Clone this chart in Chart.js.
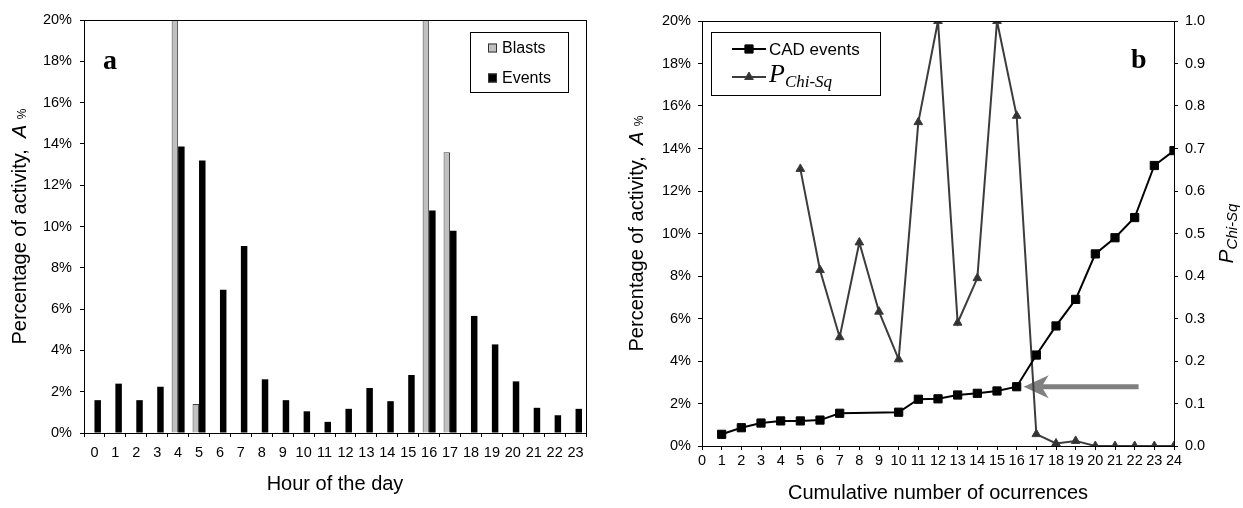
<!DOCTYPE html>
<html lang="en">
<head>
    <meta charset="UTF-8">
    <title>Activity by hour of the day and cumulative occurrences</title>
    <script src="https://cdn.jsdelivr.net/npm/chart.js"></script>
    <style>
        html, body { margin: 0; padding: 0; background: #fff; }
        #wrap { position: relative; width: 1243px; height: 508px; }
        #wrap canvas { position: absolute; top: 0; }
        #hourChart { left: 0; }
        #cumChart { left: 620px; }
    </style>
</head>
<body>
<div id="wrap">
    <canvas id="hourChart" width="620" height="508"></canvas>
    <canvas id="cumChart" width="623" height="508"></canvas>
</div>

<script>
    const SANS = '"Liberation Sans", Arial, sans-serif';
    const SERIF = '"Liberation Serif", "Times New Roman", serif';
    const TICK_FONT = { family: SANS, size: 14.5 };

    // Panel a: percentage of activity per hour of the day
    const hours = ['0','1','2','3','4','5','6','7','8','9','10','11','12','13','14','15','16','17','18','19','20','21','22','23'];
    const blasts = [0, 0, 0, 0, 24.5, 1.41, 0, 0, 0, 0, 0, 0, 0, 0, 0, 0, 23.8, 13.6, 0, 0, 0, 0, 0, 0];
    const events = [1.59, 2.39, 1.59, 2.24, 13.88, 13.2, 6.94, 9.05, 2.6, 1.59, 1.05, 0.54,
                    1.17, 2.18, 1.54, 2.81, 10.78, 9.8, 5.67, 4.29, 2.5, 1.22, 0.86, 1.17];

    // Panel b: cumulative number of occurrences
    const occurrences = [1, 2, 3, 4, 5, 6, 7, 10, 11, 12, 13, 14, 15, 16, 17, 18, 19, 20, 21, 22, 23, 24];
    const cadEvents = [0.55, 0.86, 1.08, 1.18, 1.18, 1.22, 1.54, 1.59, 2.2, 2.22, 2.4, 2.48,
                       2.59, 2.79, 4.28, 5.65, 6.9, 9.04, 9.8, 10.75, 13.2, 13.9];
    const chiSqOccurrences = [5, 6, 7, 8, 9, 10, 11, 12, 13, 14, 15, 16, 17, 18, 19, 20, 21, 22, 23, 24];
    const pChiSq = [0.652, 0.414, 0.256, 0.479, 0.316, 0.204, 0.762, 1.0, 0.29, 0.395,
                    1.0, 0.777, 0.028, 0.006, 0.012, 0, 0, 0, 0, 0];
    const arrowTarget = 16;   // occurrence the arrow points at
    const arrowTail = 22.2;

    Chart.defaults.font.family = SANS;
    Chart.defaults.color = '#000';

    // draws a run of text pieces (font can change per piece), optionally rotated
    function drawRich(ctx, parts, x, y, rotate, align) {
        ctx.save();
        ctx.translate(x, y);
        if (rotate) ctx.rotate(-Math.PI / 2);
        ctx.textBaseline = 'alphabetic';
        ctx.textAlign = 'left';
        let total = 0;
        parts.forEach(p => { ctx.font = p.font; p.w = ctx.measureText(p.text).width; total += p.w; });
        let cx = align === 'left' ? 0 : -total / 2;
        parts.forEach(p => {
            ctx.font = p.font;
            ctx.fillStyle = '#000';
            ctx.fillText(p.text, cx, p.dy || 0);
            cx += p.w;
        });
        ctx.restore();
    }

    const pctTitle = [
        { text: 'Percentage of activity,  ', font: '20px ' + SANS },
        { text: 'A', font: 'italic 20px ' + SANS },
        { text: ' ', font: '20px ' + SANS },
        { text: '%', font: '12px ' + SANS }
    ];

    function frameBox(ctx, a) {
        ctx.save();
        ctx.strokeStyle = '#000';
        ctx.lineWidth = 1;
        ctx.beginPath();
        ctx.moveTo(a.left, a.top + 0.5);
        ctx.lineTo(a.right, a.top + 0.5);
        ctx.moveTo(a.right + 0.5, a.top);
        ctx.lineTo(a.right + 0.5, a.bottom);
        ctx.stroke();
        ctx.restore();
    }

    function legendBox(ctx, x, y, w, h) {
        ctx.save();
        ctx.fillStyle = '#fff';
        ctx.fillRect(x, y, w, h);
        ctx.strokeStyle = '#000';
        ctx.lineWidth = 1;
        ctx.strokeRect(x + 0.5, y + 0.5, w, h);
        ctx.restore();
    }

    const hourDecor = {
        id: 'hourDecor',
        afterDraw(chart) {
            const ctx = chart.ctx, a = chart.chartArea;
            frameBox(ctx, a);
            drawRich(ctx, pctTitle, a.left - 58, (a.top + a.bottom) / 2, true);
            drawRich(ctx, [{ text: 'Hour of the day', font: '20px ' + SANS }], (a.left + a.right) / 2, 490);
            drawRich(ctx, [{ text: 'a', font: 'bold 28px ' + SERIF }], a.left + 19, 69, false, 'left');

            // legend
            legendBox(ctx, 470, 32, 98, 60);
            const ds = chart.data.datasets;
            [47.5, 77.5].forEach((ly, i) => {
                ctx.save();
                ctx.fillStyle = ds[i].backgroundColor;
                ctx.strokeStyle = '#333';
                ctx.lineWidth = 1;
                ctx.fillRect(488, ly - 4, 9, 9);
                ctx.strokeRect(488.5, ly - 3.5, 8, 8);
                ctx.font = '16px ' + SANS;
                ctx.fillStyle = '#000';
                ctx.textBaseline = 'middle';
                ctx.fillText(ds[i].label, 502, ly + 1);
                ctx.restore();
            });
        }
    };

    new Chart(document.getElementById('hourChart'), {
        type: 'bar',
        data: {
            labels: hours,
            datasets: [
                { label: 'Blasts', data: blasts, backgroundColor: '#c0c0c0', borderColor: '#404040',
                  borderWidth: 1, clip: 0, categoryPercentage: 0.62, barPercentage: 1 },
                { label: 'Events', data: events, backgroundColor: '#000', borderWidth: 0,
                  clip: 0, categoryPercentage: 0.62, barPercentage: 1 }
            ]
        },
        options: {
            responsive: false,
            animation: false,
            layout: { padding: { top: 20, right: 34, left: 0, bottom: 0 } },
            plugins: { legend: { display: false }, tooltip: { enabled: false } },
            scales: {
                x: {
                    grid: { drawOnChartArea: false, tickLength: 4, color: '#000', offset: true },
                    border: { color: '#000' },
                    ticks: { padding: 7, maxRotation: 0, autoSkip: false, font: TICK_FONT },
                    afterFit: s => { s.height = 75; }
                },
                y: {
                    min: 0, max: 20,
                    ticks: { stepSize: 2, padding: 8, font: TICK_FONT, callback: v => v + '%' },
                    grid: { drawOnChartArea: false, tickLength: 4, color: '#000' },
                    border: { color: '#000' },
                    afterFit: s => { s.width = 84; }
                }
            }
        },
        plugins: [hourDecor]
    });

    const cumDecor = {
        id: 'cumDecor',
        beforeDatasetsDraw(chart) {
            // gray arrow pointing at the change of slope
            const ctx = chart.ctx, xs = chart.scales.x, ys = chart.scales.y;
            const y = ys.getPixelForValue(cadEvents[occurrences.indexOf(arrowTarget)]);
            const tip = xs.getPixelForValue(arrowTarget) + 7;
            const tail = xs.getPixelForValue(arrowTail);
            ctx.save();
            ctx.strokeStyle = '#808080';
            ctx.fillStyle = '#808080';
            ctx.lineWidth = 5;
            ctx.beginPath();
            ctx.moveTo(tail, y);
            ctx.lineTo(tip + 18, y);
            ctx.stroke();
            ctx.beginPath();
            ctx.moveTo(tip, y);
            ctx.lineTo(tip + 25, y - 11.5);
            ctx.lineTo(tip + 18, y);
            ctx.lineTo(tip + 25, y + 11.5);
            ctx.closePath();
            ctx.fill();
            ctx.restore();
        },
        afterDraw(chart) {
            const ctx = chart.ctx, a = chart.chartArea;
            frameBox(ctx, a);
            drawRich(ctx, pctTitle, a.left - 59, (a.top + a.bottom) / 2, true);
            drawRich(ctx, [
                { text: 'P', font: 'italic 21px ' + SANS },
                { text: 'Chi-Sq', font: 'italic 15px ' + SANS, dy: 4 }
            ], a.right + 59, (a.top + a.bottom) / 2, true);
            drawRich(ctx, [{ text: 'Cumulative number of ocurrences', font: '20px ' + SANS }],
                (a.left + a.right) / 2, 499);
            drawRich(ctx, [{ text: 'b', font: 'bold 28px ' + SERIF }], a.right - 43, 68, false, 'left');

            // legend
            legendBox(ctx, 91, 32, 169, 63);
            const ds = chart.data.datasets;
            [49, 77].forEach((ly, i) => {
                const d = ds[i];
                ctx.save();
                ctx.strokeStyle = d.borderColor;
                ctx.lineWidth = 2;
                ctx.beginPath();
                ctx.moveTo(112, ly);
                ctx.lineTo(146, ly);
                ctx.stroke();
                ctx.fillStyle = d.backgroundColor;
                ctx.lineWidth = 1;
                Chart.helpers.drawPoint(ctx, {
                    pointStyle: d.pointStyle, radius: d.pointRadius, borderWidth: 1, rotation: 0
                }, 129, ly);
                ctx.restore();
            });
            drawRich(ctx, [{ text: 'CAD events', font: '17px ' + SANS }], 149, 55, false, 'left');
            drawRich(ctx, [
                { text: 'P', font: 'italic 26px ' + SERIF },
                { text: 'Chi-Sq', font: 'italic 17px ' + SERIF, dy: 5 }
            ], 149, 82, false, 'left');
        }
    };

    new Chart(document.getElementById('cumChart'), {
        type: 'line',
        data: {
            datasets: [
                {
                    label: 'CAD events',
                    data: occurrences.map((x, i) => ({ x: x, y: cadEvents[i] })),
                    yAxisID: 'y',
                    borderColor: '#000', backgroundColor: '#000', borderWidth: 2,
                    pointStyle: 'rect', pointRadius: 5.8, pointBorderWidth: 1, tension: 0
                },
                {
                    label: 'P Chi-Sq',
                    data: chiSqOccurrences.map((x, i) => ({ x: x, y: pChiSq[i] })),
                    yAxisID: 'y1',
                    borderColor: '#3c3c3c', backgroundColor: '#333', borderWidth: 2,
                    pointStyle: 'triangle', pointRadius: 5, pointBorderWidth: 1, tension: 0
                }
            ]
        },
        options: {
            responsive: false,
            animation: false,
            layout: { padding: { top: 21, right: 0, left: 0, bottom: 0 } },
            plugins: { legend: { display: false }, tooltip: { enabled: false } },
            scales: {
                x: {
                    type: 'linear', min: 0, max: 24,
                    ticks: { stepSize: 1, padding: 2, autoSkip: false, maxRotation: 0, font: TICK_FONT },
                    grid: { drawOnChartArea: false, tickLength: 4, color: '#000' },
                    border: { color: '#000' },
                    afterFit: s => { s.height = 62; }
                },
                y: {
                    position: 'left', min: 0, max: 20,
                    ticks: { stepSize: 2, padding: 7, font: TICK_FONT, callback: v => v + '%' },
                    grid: { drawOnChartArea: false, tickLength: 4, color: '#000' },
                    border: { color: '#000' },
                    afterFit: s => { s.width = 82; }
                },
                y1: {
                    position: 'right', min: 0, max: 1,
                    ticks: { stepSize: 0.1, padding: 7, font: TICK_FONT, callback: v => v.toFixed(1) },
                    grid: { drawOnChartArea: false, tickLength: 4, color: '#000' },
                    border: { color: '#000' },
                    afterFit: s => { s.width = 69; }
                }
            }
        },
        plugins: [cumDecor]
    });
</script>
</body>
</html>
